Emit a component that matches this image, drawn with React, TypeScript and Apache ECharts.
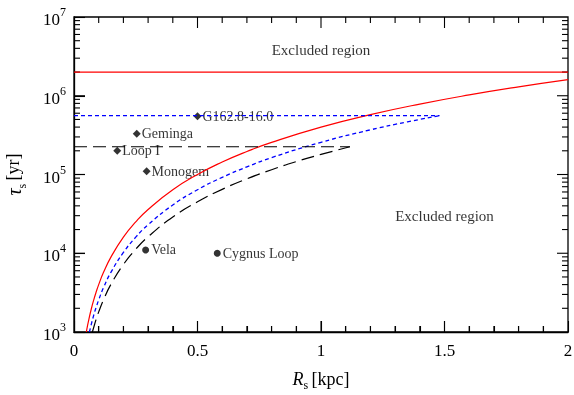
import React, { useEffect, useRef } from "react";
import * as echarts from "echarts";

// Red solid curve (R [kpc], tau [yr])
const redCurveR = [0.05, 0.055, 0.06, 0.07, 0.08, 0.09, 0.1, 0.12, 0.15, 0.2, 0.25, 0.3, 0.4, 0.5, 0.6, 0.7, 0.8, 1.0, 1.2, 1.4, 1.6, 1.8, 2.0];
const redCurveTau = [1000, 1210, 1440, 1960, 2560, 3240, 4000, 5760, 9000, 16000, 25000, 36000, 64000, 100000, 144000, 196000, 256000, 400000, 576000, 784000, 1024000, 1296000, 1600000];
const redLimitTau = 2.0e6;
const redLimitR = [0, 2];

// Blue dotted curve
const blueCurveR = [0.0625, 0.07, 0.08, 0.09, 0.1, 0.12, 0.15, 0.2, 0.25, 0.3, 0.4, 0.5, 0.6, 0.7, 0.8, 1.0, 1.2, 1.35, 1.48];
const blueCurveTau = [1000, 1250, 1640, 2070, 2560, 3690, 5760, 10240, 16000, 23000, 41000, 64000, 92000, 125000, 164000, 256000, 369000, 466000, 560000];
const blueLimitTau = 5.6e5;
const blueLimitR = [0, 1.48];

// Black dashed curve
const blackCurveR = [0.0745, 0.08, 0.09, 0.1, 0.12, 0.15, 0.2, 0.25, 0.3, 0.4, 0.5, 0.6, 0.7, 0.8, 0.9, 1.0, 1.117];
const blackCurveTau = [1000, 1150, 1460, 1800, 2590, 4050, 7200, 11250, 16200, 28800, 45000, 64800, 88200, 115000, 146000, 180000, 225000];
const blackLimitTau = 2.25e5;
const blackLimitR = [0, 1.117];

// Sources
const diamondNames = ["G162.8-16.0", "Geminga", "Loop I", "Monogem"];
const diamondR = [0.5, 0.254, 0.175, 0.294];
const diamondTau = [5.5e5, 3.3e5, 2.0e5, 1.1e5];
const circleNames = ["Vela", "Cygnus Loop"];
const circleR = [0.29, 0.58];
const circleTau = [1.1e4, 1.0e4];

// Region labels
const regionLabels = ["Excluded region", "Excluded region"];
const regionR = [1.0, 1.5];
const regionTau = [3.8e6, 2.97e4];

// Axes
const xMin = 0, xMax = 2, xInterval = 0.5;
const xMajorTicks = [0.5, 1, 1.5];
const xMinorTicks = [0.1, 0.2, 0.3, 0.4, 0.6, 0.7, 0.8, 0.9, 1.1, 1.2, 1.3, 1.4, 1.6, 1.7, 1.8, 1.9];
const yMin = 1e3, yMax = 1e7;
const yMajorTicks = [1e4, 1e5, 1e6];
const yMinorTicks: number[] = [];
[3, 4, 5, 6].forEach((e) => {
  [2, 3, 4, 5, 6, 7, 8, 9].forEach((m) => yMinorTicks.push(m * Math.pow(10, e)));
});

const FONT = "'Liberation Serif', 'Times New Roman', Times, serif";
const MAJOR = 11;
const MINOR = 6;

function zip(r: number[], t: number[]) {
  return r.map((v, i) => [v, t[i]]);
}

function tickSeries(data: number[][], dx: number, dy: number) {
  return {
    type: "custom",
    data,
    renderItem: (params: any, api: any) => {
      const p = api.coord([api.value(0), api.value(1)]);
      return {
        type: "line",
        shape: { x1: p[0], y1: p[1], x2: p[0] + dx, y2: p[1] + dy },
        style: { stroke: "#000000", lineWidth: 1.1 },
      };
    },
  };
}

export default function App() {
  const ref = useRef<HTMLDivElement>(null);
  useEffect(() => {
    if (!ref.current) return;
    const chart = echarts.init(ref.current, undefined, { renderer: "svg" });
    const tickLabelRich = {
      b: { fontSize: 17, fontFamily: FONT, color: "#000", verticalAlign: "bottom", lineHeight: 22 },
      sup: { fontSize: 12, fontFamily: FONT, color: "#000", verticalAlign: "top", lineHeight: 22 },
    };

    chart.setOption({
      animation: false,
      grid: {
        left: 74, right: 6, top: 17, bottom: 63,
        outerBoundsMode: "none",
        show: true,
        borderColor: "#000",
        borderWidth: 1.3,
      },
      xAxis: {
        type: "value",
        min: xMin,
        max: xMax,
        interval: xInterval,
        axisLine: { show: true, lineStyle: { color: "#000", width: 1.3 } },
        axisTick: { show: true, inside: true, length: MAJOR, lineStyle: { color: "#000", width: 1.1 } },
        minorTick: { show: true, splitNumber: 5, length: MINOR, lineStyle: { color: "#000", width: 1.1 } },
        splitLine: { show: false },
        axisLabel: { fontSize: 17, fontFamily: FONT, color: "#000", margin: 10 },
        name: "{i|R}{sub|s} {b|[kpc]}",
        nameLocation: "middle",
        nameGap: 38,
        nameTextStyle: {
          rich: {
            i: { fontSize: 18, fontFamily: FONT, fontStyle: "italic", color: "#000", verticalAlign: "top", lineHeight: 21 },
            sub: { fontSize: 12, fontFamily: FONT, color: "#000", verticalAlign: "bottom", lineHeight: 21 },
            b: { fontSize: 18, fontFamily: FONT, color: "#000", verticalAlign: "top", lineHeight: 21 },
          },
        },
      },
      yAxis: {
        type: "log",
        logBase: 10,
        min: yMin,
        max: yMax,
        axisLine: { show: true, lineStyle: { color: "#000", width: 1.3 } },
        axisTick: { show: true, inside: true, length: MAJOR, lineStyle: { color: "#000", width: 1.1 } },
        splitLine: { show: false },
        axisLabel: {
          margin: 8,
          formatter: (v: number) => "{b|10}{sup|" + Math.round(Math.log10(v)) + "}",
          rich: tickLabelRich,
        },
        name: "{i|τ}{sub|s} {b|[yr]}",
        nameLocation: "middle",
        nameRotate: 90,
        nameGap: 46,
        nameTextStyle: {
          rich: {
            i: { fontSize: 20, fontFamily: FONT, fontStyle: "italic", color: "#000", verticalAlign: "top", lineHeight: 24 },
            sub: { fontSize: 12, fontFamily: FONT, color: "#000", verticalAlign: "bottom", lineHeight: 24 },
            b: { fontSize: 18, fontFamily: FONT, color: "#000", verticalAlign: "top", lineHeight: 24 },
          },
        },
      },
      series: [
        {
          type: "line",
          data: zip(redCurveR, redCurveTau),
          showSymbol: false,
          smooth: true,
          lineStyle: { color: "#ff0000", width: 1.2 },
        },
        {
          type: "line",
          data: redLimitR.map((r) => [r, redLimitTau]),
          showSymbol: false,
          lineStyle: { color: "#ff0000", width: 1.2 },
        },
        {
          type: "line",
          data: zip(blueCurveR, blueCurveTau),
          showSymbol: false,
          smooth: true,
          lineStyle: { color: "#0000ff", width: 1.3, type: [4, 3] },
        },
        {
          type: "line",
          data: blueLimitR.map((r) => [r, blueLimitTau]),
          showSymbol: false,
          lineStyle: { color: "#0000ff", width: 1.3, type: [4, 3] },
        },
        {
          type: "line",
          data: zip(blackCurveR, blackCurveTau),
          showSymbol: false,
          smooth: true,
          lineStyle: { color: "#000", width: 1.2, type: [13, 6] },
        },
        {
          type: "line",
          data: blackLimitR.map((r) => [r, blackLimitTau]),
          showSymbol: false,
          lineStyle: { color: "#000", width: 1.2, type: [13, 6] },
        },
        {
          type: "scatter",
          symbol: "diamond",
          symbolSize: 8,
          itemStyle: { color: "#000" },
          data: diamondNames.map((n, i) => ({ name: n, value: [diamondR[i], diamondTau[i]] })),
          label: { show: true, position: "right", distance: 1, formatter: "{b}", fontSize: 14, fontFamily: FONT, color: "#000" },
        },
        {
          type: "scatter",
          symbol: "circle",
          symbolSize: 7,
          itemStyle: { color: "#000" },
          data: circleNames.map((n, i) => ({ name: n, value: [circleR[i], circleTau[i]] })),
          label: { show: true, position: "right", distance: 2, formatter: "{b}", fontSize: 14, fontFamily: FONT, color: "#000" },
        },
        {
          type: "scatter",
          symbolSize: 0,
          data: regionLabels.map((n, i) => ({ name: n, value: [regionR[i], regionTau[i]] })),
          label: { show: true, position: "inside", formatter: "{b}", fontSize: 15, fontFamily: FONT, color: "#000" },
        },
        tickSeries(xMajorTicks.map((v) => [v, yMin]), 0, -MAJOR),
        tickSeries(xMinorTicks.map((v) => [v, yMin]), 0, -MINOR),
        tickSeries(xMajorTicks.map((v) => [v, yMax]), 0, MAJOR),
        tickSeries(xMinorTicks.map((v) => [v, yMax]), 0, MINOR),
        tickSeries(yMajorTicks.map((v) => [xMin, v]), MAJOR, 0),
        tickSeries(yMinorTicks.map((v) => [xMin, v]), MINOR, 0),
        tickSeries(yMajorTicks.map((v) => [xMax, v]), -MAJOR, 0),
        tickSeries(yMinorTicks.map((v) => [xMax, v]), -MINOR, 0),
      ],
    });
    return () => chart.dispose();
  }, []);
  return <div ref={ref} style={{ position: "fixed", left: 0, top: 0, width: 574, height: 395 }} />;
}
